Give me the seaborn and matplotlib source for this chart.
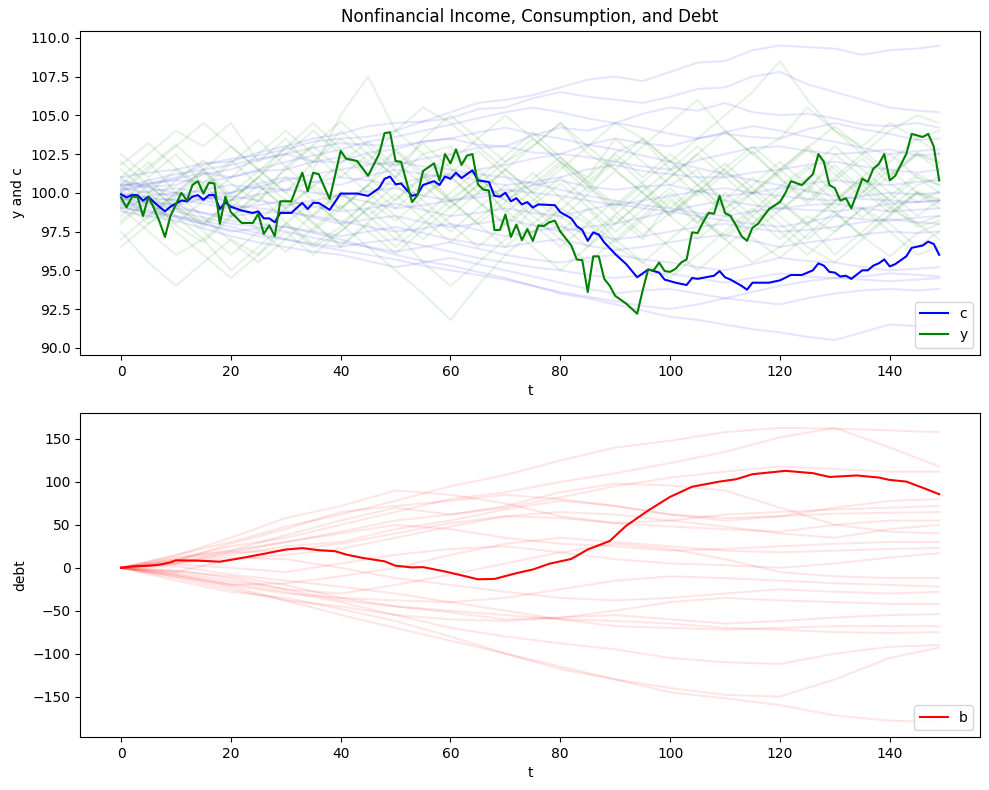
import numpy as np
import pandas as pd
import seaborn as sns
import matplotlib
matplotlib.use('Agg')
import matplotlib.pyplot as plt

# main consumption path c (t, value)
c_t = [0, 1, 2, 3, 4, 5, 6, 8, 9, 11, 12, 13, 14, 15, 16, 17, 18, 19, 20, 22, 24, 25, 26, 27, 28, 29,
       31, 33, 34, 35, 36, 38, 40, 43, 45, 47, 48, 49, 50, 51, 52, 53, 54, 55, 57, 58, 59, 60, 61, 62,
       63, 64, 65, 67, 68, 69, 70, 71, 72, 73, 74, 75, 76, 79, 80, 82, 83, 84, 85, 86, 87, 88, 90, 92,
       94, 96, 98, 99, 101, 103, 104, 105, 108, 109, 110, 111, 113, 114, 115, 118, 120, 122, 124, 126,
       127, 128, 129, 130, 131, 132, 133, 135, 136, 137, 138, 139, 140, 141, 143, 144, 146, 147, 148, 149]
c_v = [99.9, 99.7, 99.85, 99.85, 99.5, 99.75, 99.4, 98.8, 99.1, 99.5, 99.45, 99.75, 99.85, 99.55, 99.85,
       99.85, 98.95, 99.4, 99.1, 98.85, 98.7, 98.8, 98.35, 98.35, 98.1, 98.7, 98.7, 99.35, 98.95, 99.35,
       99.35, 98.9, 99.95, 99.95, 99.8, 100.3, 100.9, 101.05, 100.55, 100.6, 100.2, 99.8, 99.9, 100.5,
       100.75, 100.5, 101.05, 100.9, 101.3, 100.95, 101.2, 101.45, 100.8, 100.7, 99.8, 99.75, 100.0,
       99.45, 99.65, 99.25, 99.4, 99.05, 99.25, 99.2, 98.75, 98.35, 97.85, 97.6, 96.9, 97.45, 97.3, 96.8,
       96.05, 95.4, 94.55, 95.05, 94.85, 94.4, 94.2, 94.05, 94.5, 94.45, 94.65, 94.95, 94.55, 94.4, 94.0,
       93.75, 94.2, 94.2, 94.35, 94.7, 94.7, 95.0, 95.45, 95.3, 94.9, 94.85, 94.6, 94.65, 94.45, 95.0,
       95.0, 95.3, 95.45, 95.7, 95.25, 95.4, 95.9, 96.45, 96.6, 96.85, 96.7, 96.0]

# main income path y
y_t = [0, 1, 2, 3, 4, 5, 6, 7, 8, 9, 11, 12, 13, 14, 15, 16, 17, 18, 19, 20, 21, 22, 24, 25, 26, 27,
       28, 29, 31, 33, 34, 35, 36, 38, 40, 41, 43, 45, 47, 48, 49, 50, 51, 52, 53, 54, 55, 57, 58, 59,
       60, 61, 62, 63, 64, 65, 66, 67, 68, 69, 70, 71, 72, 73, 74, 75, 76, 77, 78, 79, 80, 82, 83, 84,
       85, 86, 87, 88, 89, 90, 91, 92, 94, 95, 96, 97, 98, 99, 100, 101, 102, 103, 104, 105, 106, 107,
       108, 109, 110, 111, 112, 113, 114, 115, 116, 118, 120, 121, 122, 124, 126, 127, 128, 129, 130,
       131, 132, 133, 135, 136, 137, 138, 139, 140, 141, 143, 144, 146, 147, 148, 149]
y_v = [99.7, 99.05, 99.75, 99.75, 98.5, 99.75, 99.0, 98.15, 97.15, 98.5, 100.0, 99.5, 100.5, 100.75,
       99.95, 100.65, 100.6, 98.0, 99.75, 98.75, 98.4, 98.05, 98.05, 98.65, 97.35, 97.9, 97.2, 99.45,
       99.45, 101.3, 100.1, 101.3, 101.2, 99.6, 102.7, 102.2, 102.05, 101.1, 102.5, 103.85, 103.9,
       102.05, 102.0, 100.7, 99.4, 99.85, 101.4, 101.9, 100.8, 102.5, 101.9, 102.8, 101.8, 102.4, 102.5,
       100.55, 100.2, 100.15, 97.6, 97.6, 98.6, 97.15, 97.95, 96.95, 97.65, 96.9, 97.9, 97.85, 98.1,
       98.2, 97.5, 96.6, 95.7, 95.65, 93.6, 95.9, 95.9, 94.45, 94.0, 93.35, 93.1, 92.85, 92.2, 93.7,
       95.05, 95.0, 95.5, 94.95, 94.9, 95.1, 95.5, 95.7, 97.45, 97.4, 98.1, 98.7, 98.65, 99.8, 98.7,
       98.5, 97.9, 97.2, 96.9, 97.75, 98.0, 98.95, 99.4, 100.0, 100.75, 100.5, 101.2, 102.5, 102.0,
       100.5, 100.3, 99.5, 99.65, 99.0, 100.9, 100.7, 101.55, 101.85, 102.5, 100.8, 101.1, 102.5,
       103.8, 103.6, 103.8, 103.0, 100.8]

# main debt path b
b_t = [0, 2, 5, 7, 9, 10, 14, 18, 21, 26, 30, 33, 36, 39, 41, 44, 48, 50, 53, 55, 59, 63, 65, 68, 72,
       75, 78, 82, 85, 89, 92, 96, 100, 104, 109, 112, 115, 121, 126, 129, 134, 138, 140, 143, 146, 149]
b_v = [0, 1.6, 2.4, 3.6, 6.3, 8.7, 8.3, 7.1, 10.3, 16.2, 21.3, 22.9, 20.5, 19.3, 15.4, 11.5, 7.5, 2.4,
       0.4, 0.8, -4.3, -10.3, -13.4, -13.0, -6.3, -2.0, 4.7, 10.3, 21.3, 31.2, 48.9, 66.7, 82.6, 94.4,
       100.4, 103.1, 109.0, 112.9, 110.2, 105.8, 107.5, 105.1, 102.3, 100.4, 93.2, 85.7]

# faint sample paths, read at coarse time steps
grid10 = [0, 10, 20, 30, 40, 50, 60, 70, 80, 90, 100, 110, 120, 130, 140, 149]
grid5 = list(range(0, 150, 5)) + [149]

c_paths = [
    [101.0, 101.3, 101.5, 101.9, 102.0, 102.6, 103.0, 103.5, 103.8, 104.3, 104.5, 104.6, 105.2, 105.8, 106.0, 106.3,
     106.8, 107.3, 107.5, 107.2, 107.8, 108.4, 108.5, 109.2, 109.5, 109.4, 109.3, 108.9, 109.2, 109.3, 109.5],
    [100.5, 100.6, 101.0, 101.8, 102.2, 102.4, 102.8, 103.3, 103.5, 103.6, 104.0, 104.6, 104.8, 105.4, 105.5, 106.1,
     106.5, 106.2, 106.0, 105.8, 106.2, 106.7, 106.8, 107.5, 107.8, 107.0, 106.5, 106.0, 105.5, 105.3, 105.2],
    [100.8, 100.4, 100.5, 101.2, 101.5, 102.1, 102.5, 102.0, 102.0, 102.6, 102.8, 103.3, 103.5, 103.1, 103.0, 103.7,
     104.2, 104.0, 104.5, 105.1, 105.5, 105.3, 105.8, 105.2, 105.0, 105.1, 104.8, 104.4, 104.3, 104.5, 104.2],
    [100.2, 100.6, 100.8, 100.7, 101.0, 101.4, 101.5, 102.0, 102.3, 101.9, 101.8, 102.2, 102.5, 102.9, 103.0, 102.6,
     102.5, 103.1, 103.5, 103.2, 103.0, 103.5, 103.8, 103.6, 103.5, 104.1, 104.5, 104.1, 103.8, 103.4, 103.5],
    [99.8, 100.1, 100.3, 100.0, 100.0, 100.6, 101.0, 100.7, 100.5, 101.1, 101.5, 101.2, 101.0, 101.5, 101.8, 102.2,
     102.5, 102.3, 102.0, 101.7, 101.5, 102.1, 102.5, 102.9, 103.0, 102.7, 102.5, 102.6, 102.8, 102.4, 102.5],
    [100.3, 100.0, 99.8, 100.2, 100.5, 100.3, 100.2, 100.7, 101.0, 100.8, 100.5, 101.0, 101.2, 100.8, 100.5, 100.7,
     101.0, 101.5, 101.8, 101.4, 101.2, 101.0, 101.0, 101.3, 101.5, 101.8, 102.0, 101.7, 101.5, 101.3, 101.5],
    [99.5, 99.8, 100.0, 99.7, 99.5, 99.9, 100.2, 100.0, 99.8, 100.1, 100.3, 99.8, 99.5, 99.7, 100.0, 100.5,
     100.8, 100.4, 100.2, 100.4, 100.5, 100.1, 99.8, 100.0, 100.3, 100.6, 100.8, 100.6, 100.5, 100.7, 100.8],
    [100.0, 99.7, 99.5, 99.6, 99.8, 99.5, 99.2, 99.5, 99.8, 99.4, 99.0, 99.2, 99.5, 99.9, 100.2, 100.0,
     99.8, 99.5, 99.2, 99.5, 99.8, 100.1, 100.3, 100.0, 99.8, 99.6, 99.5, 99.8, 100.0, 99.9, 100.0],
    [99.2, 99.5, 99.6, 99.3, 99.0, 99.2, 99.5, 99.1, 98.8, 99.0, 99.3, 98.9, 98.5, 98.7, 99.0, 98.7,
     98.5, 98.9, 99.3, 99.0, 98.8, 99.2, 99.5, 99.2, 99.0, 98.9, 98.8, 99.0, 99.3, 99.4, 99.5],
    [100.6, 100.3, 100.0, 99.5, 99.2, 99.0, 98.8, 98.4, 98.0, 98.3, 98.5, 98.1, 97.8, 98.0, 98.3, 97.9,
     97.5, 97.8, 98.0, 98.4, 98.8, 98.5, 98.2, 98.0, 97.8, 98.1, 98.5, 98.3, 98.2, 98.4, 98.5],
    [99.6, 99.3, 99.0, 98.7, 98.5, 98.7, 98.8, 98.5, 98.2, 97.8, 97.5, 97.7, 98.0, 97.6, 97.2, 97.5,
     97.8, 97.4, 97.0, 97.2, 97.5, 97.8, 98.0, 97.7, 97.5, 97.6, 97.8, 98.1, 98.3, 98.1, 98.0],
    [99.9, 99.5, 99.2, 98.7, 98.2, 98.0, 97.8, 97.5, 97.2, 97.5, 97.8, 97.4, 97.0, 96.7, 96.5, 96.8,
     97.0, 96.6, 96.3, 96.5, 96.8, 97.1, 97.3, 96.9, 96.5, 96.8, 97.0, 97.3, 97.5, 97.4, 97.5],
    [99.4, 99.1, 98.8, 98.4, 98.0, 97.8, 97.5, 97.1, 96.8, 96.5, 96.2, 96.5, 96.8, 96.4, 96.0, 95.7,
     95.5, 95.8, 96.0, 95.7, 95.5, 95.2, 95.0, 95.4, 95.8, 95.6, 95.5, 95.2, 95.0, 95.1, 95.2],
    [99.0, 98.8, 98.5, 98.2, 97.8, 97.4, 97.0, 96.7, 96.5, 96.8, 97.0, 96.6, 96.2, 95.8, 95.5, 95.2,
     95.0, 94.7, 94.5, 94.7, 94.8, 94.5, 94.2, 94.5, 94.8, 94.6, 94.5, 94.4, 94.3, 94.4, 94.5],
    [98.8, 98.5, 98.2, 97.7, 97.2, 96.8, 96.5, 96.2, 96.0, 95.6, 95.2, 95.5, 95.8, 95.4, 95.0, 94.6,
     94.2, 93.8, 93.5, 93.7, 93.8, 93.5, 93.2, 93.0, 92.8, 93.2, 93.5, 93.7, 93.8, 93.7, 93.8],
    [99.3, 98.9, 98.5, 98.0, 97.5, 97.7, 97.8, 97.4, 97.0, 96.5, 96.0, 95.6, 95.3, 94.9, 94.5, 94.0,
     93.5, 93.2, 92.8, 92.4, 92.0, 91.8, 91.5, 91.2, 91.0, 90.7, 90.5, 91.0, 91.5, 91.4, 91.5],
    [100.4, 100.8, 101.2, 101.5, 101.8, 102.2, 102.5, 102.9, 103.2, 103.1, 103.0, 103.3, 103.5, 103.9, 104.2, 103.8,
     103.5, 103.1, 102.8, 102.4, 102.0, 101.6, 101.2, 100.8, 100.5, 100.1, 99.8, 99.6, 99.5, 99.4, 99.5],
    [99.7, 99.4, 99.2, 99.6, 100.0, 100.4, 100.8, 101.2, 101.5, 101.8, 102.0, 101.7, 101.5, 101.2, 101.0, 100.6,
     100.2, 99.8, 99.5, 99.2, 99.0, 98.7, 98.5, 98.8, 99.0, 99.2, 99.3, 99.0, 98.8, 98.9, 99.0],
    [100.1, 100.5, 100.9, 101.3, 101.0, 101.5, 102.0, 102.4, 102.8, 103.3, 103.6, 104.0, 104.4, 104.8, 105.2, 105.5,
     105.2, 104.8, 104.5, 104.2, 103.8, 103.5, 103.9, 104.3, 104.0, 103.6, 103.3, 102.9, 102.5, 102.7, 102.8],
    [99.1, 98.7, 98.4, 98.0, 97.6, 97.2, 97.0, 96.6, 96.3, 96.0, 95.7, 95.3, 95.0, 94.7, 94.4, 94.0,
     93.6, 93.3, 93.0, 92.7, 92.5, 92.8, 93.2, 93.6, 94.0, 94.3, 94.5, 94.6, 94.8, 94.7, 94.6],
]

y_paths = [
    [101.0, 102.5, 104.0, 103.0, 104.5, 102.0, 103.5, 101.5, 105.0, 107.5, 104.0, 102.5, 103.0, 101.0, 99.5, 100.5,
     102.0, 101.0, 103.5, 102.0, 100.5, 101.5, 99.0, 100.0, 101.5, 100.0, 102.5, 101.0, 99.5, 101.0, 100.5],
    [99.0, 97.5, 96.0, 97.0, 95.0, 96.5, 98.0, 96.5, 97.5, 99.0, 97.5, 95.5, 94.0, 95.5, 97.0, 99.0,
     98.0, 96.5, 98.5, 97.0, 99.5, 98.0, 100.0, 98.5, 97.0, 98.5, 97.5, 99.0, 98.0, 96.5, 97.5],
    [100.5, 102.0, 100.0, 101.5, 99.5, 101.0, 103.0, 102.0, 104.0, 102.5, 101.0, 103.5, 105.0, 103.5, 102.0, 103.0,
     104.5, 102.5, 101.5, 103.0, 104.5, 106.0, 104.0, 102.5, 103.5, 105.5, 104.0, 103.0, 104.5, 103.5, 104.0],
    [97.5, 95.5, 94.0, 95.5, 97.0, 96.0, 98.0, 99.5, 98.0, 96.5, 95.0, 93.5, 91.8, 94.0, 96.0, 97.5,
     99.0, 98.0, 96.5, 95.5, 97.0, 98.5, 97.0, 95.5, 96.5, 98.0, 96.0, 97.5, 99.0, 98.0, 98.5],
    [100.0, 101.5, 103.0, 104.5, 103.0, 101.5, 100.0, 102.0, 103.5, 102.0, 104.0, 105.5, 104.5, 103.0, 101.5, 100.0,
     101.5, 103.0, 104.5, 103.5, 102.0, 103.5, 105.0, 106.5, 108.5, 106.0, 104.0, 102.5, 101.0, 102.5, 101.5],
    [99.5, 98.0, 99.0, 97.5, 96.0, 97.5, 99.0, 100.5, 99.0, 100.5, 102.0, 100.5, 99.0, 100.5, 102.0, 103.5,
     102.0, 100.5, 99.0, 100.5, 98.5, 97.0, 98.5, 100.0, 98.5, 97.0, 98.5, 100.0, 101.5, 100.0, 99.0],
    [98.5, 100.0, 101.5, 100.0, 98.5, 99.5, 101.0, 99.5, 98.0, 99.5, 101.0, 102.5, 101.0, 99.5, 98.0, 96.5,
     95.0, 96.5, 98.0, 99.5, 101.0, 102.5, 101.0, 99.5, 98.0, 96.5, 95.5, 97.0, 98.5, 100.0, 99.5],
    [101.5, 100.0, 98.5, 97.0, 98.5, 100.0, 101.5, 103.0, 101.5, 100.0, 98.5, 97.0, 98.5, 100.0, 101.5, 103.0,
     104.5, 103.0, 101.5, 100.0, 98.5, 100.0, 101.5, 100.0, 101.5, 103.0, 101.5, 100.0, 102.0, 103.5, 102.5],
    [98.0, 99.5, 97.5, 96.0, 94.5, 96.0, 97.5, 96.0, 97.5, 99.0, 100.5, 99.0, 97.5, 99.0, 100.5, 99.0,
     97.5, 99.0, 97.0, 95.5, 94.5, 96.0, 97.5, 99.0, 97.5, 96.0, 97.5, 99.0, 97.5, 96.0, 96.5],
    [102.5, 101.0, 102.5, 100.5, 99.0, 100.5, 99.0, 97.5, 99.0, 100.5, 99.0, 100.5, 102.0, 103.5, 105.0, 103.5,
     102.0, 100.5, 102.0, 103.5, 102.0, 100.5, 99.0, 100.5, 102.0, 100.5, 99.0, 100.5, 99.0, 100.5, 101.0],
    [99.0, 100.5, 99.0, 98.0, 99.5, 101.0, 99.5, 98.0, 96.5, 98.0, 96.5, 98.0, 99.5, 98.0, 96.5, 98.0,
     99.5, 101.0, 102.5, 101.0, 102.5, 101.0, 99.5, 98.0, 99.5, 101.0, 99.5, 101.0, 102.5, 101.0, 100.0],
    [100.0, 98.5, 100.0, 101.5, 103.0, 101.5, 100.0, 98.5, 100.0, 98.5, 97.0, 98.5, 100.0, 101.5, 100.0, 98.5,
     97.0, 95.5, 97.0, 98.5, 100.0, 98.5, 97.0, 98.5, 100.0, 101.5, 103.0, 101.5, 100.0, 98.5, 99.5],
    [96.5, 98.0, 99.5, 98.0, 99.5, 101.0, 102.5, 104.0, 102.5, 101.0, 99.5, 101.0, 102.5, 101.0, 99.5, 98.0,
     96.5, 98.0, 99.5, 98.0, 96.5, 95.0, 96.5, 98.0, 99.5, 98.0, 99.5, 101.0, 99.5, 98.0, 97.0],
    [101.0, 99.5, 98.0, 99.5, 101.0, 102.5, 104.0, 102.5, 101.0, 102.5, 101.0, 99.5, 98.0, 96.5, 98.0, 99.5,
     101.0, 99.5, 98.0, 99.5, 101.0, 102.5, 104.0, 102.5, 101.0, 99.5, 101.0, 102.5, 104.0, 105.0, 104.5],
    [100.5, 99.2, 100.8, 102.1, 100.6, 99.4, 101.7, 100.2, 98.9, 100.5, 102.8, 101.3, 99.6, 100.9, 98.7, 100.2,
     101.8, 100.1, 102.6, 103.4, 101.5, 99.8, 101.2, 102.7, 100.9, 99.3, 100.8, 102.2, 100.6, 99.4, 100.1],
    [98.2, 99.6, 97.9, 96.8, 98.4, 99.9, 98.1, 96.7, 97.8, 99.5, 98.2, 99.7, 101.1, 99.4, 97.9, 99.2,
     100.6, 99.1, 97.5, 98.9, 100.3, 98.6, 97.2, 98.8, 100.4, 101.7, 99.9, 98.4, 99.8, 101.2, 100.5],
    [101.8, 103.2, 101.6, 100.3, 101.9, 103.4, 101.7, 103.1, 104.6, 103.0, 101.4, 99.8, 101.3, 102.7, 101.1, 99.6,
     98.3, 99.9, 101.4, 100.0, 98.6, 100.1, 101.6, 103.0, 101.5, 102.9, 104.3, 102.8, 101.2, 102.6, 102.0],
    [99.4, 100.9, 99.2, 97.8, 99.3, 97.6, 96.2, 97.7, 99.2, 97.5, 96.1, 97.6, 99.1, 100.5, 98.9, 97.4,
     98.9, 100.4, 98.8, 97.3, 98.7, 100.2, 98.6, 97.1, 95.8, 97.3, 98.8, 97.2, 95.9, 97.4, 98.0],
    [100.2, 101.7, 103.1, 101.5, 99.9, 101.4, 102.9, 104.5, 102.8, 101.2, 102.7, 101.0, 99.4, 100.9, 102.4, 103.9,
     102.3, 100.7, 102.2, 100.6, 99.0, 100.5, 101.9, 100.3, 98.8, 100.3, 101.8, 100.2, 98.7, 100.1, 99.6],
    [97.0, 98.5, 100.0, 98.4, 96.9, 95.5, 97.0, 98.6, 100.1, 98.5, 99.9, 98.3, 96.8, 98.3, 99.8, 101.3,
     99.7, 98.2, 96.8, 98.3, 99.7, 98.1, 99.6, 101.0, 99.4, 97.9, 99.4, 100.8, 99.2, 97.8, 98.2],
    [102.0, 100.5, 99.0, 100.6, 102.1, 100.5, 99.0, 100.4, 101.9, 103.3, 101.7, 103.2, 101.6, 100.0, 101.5, 100.0,
     98.5, 97.1, 98.6, 100.1, 101.5, 103.0, 101.4, 99.9, 101.3, 102.8, 101.2, 99.7, 101.1, 102.5, 101.9],
    [99.8, 98.3, 99.8, 101.3, 99.7, 98.2, 99.6, 98.1, 96.6, 98.1, 99.6, 101.1, 99.5, 98.0, 99.4, 100.9,
     102.3, 100.7, 99.2, 100.7, 102.1, 100.5, 98.9, 97.4, 98.9, 100.3, 98.7, 97.2, 98.6, 100.0, 99.3],
]

b_paths = [
    [0, 15, 30, 48, 62, 78, 95, 108, 125, 140, 148, 158, 163, 162, 160, 158],
    [0, 10, 25, 35, 50, 65, 80, 88, 100, 110, 122, 135, 152, 163, 140, 118],
    [0, 12, 20, 38, 55, 70, 62, 70, 82, 95, 105, 112, 118, 115, 112, 112],
    [0, 8, 28, 45, 65, 72, 78, 85, 80, 72, 62, 58, 60, 70, 78, 80],
    [0, 14, 35, 58, 72, 90, 85, 75, 60, 52, 55, 62, 65, 68, 70, 72],
    [0, 6, 15, 25, 30, 45, 55, 68, 78, 72, 62, 55, 60, 63, 64, 65],
    [0, 5, 18, 20, 28, 40, 52, 60, 58, 52, 48, 45, 42, 50, 55, 55],
    [0, -5, 10, 15, 22, 35, 48, 60, 65, 62, 55, 48, 40, 35, 45, 50],
    [0, 10, 20, 30, 40, 50, 45, 35, 28, 25, 20, 22, 25, 28, 30, 30],
    [0, -8, -20, -18, -10, 0, 15, 28, 35, 30, 25, 20, 18, 20, 22, 23],
    [0, 4, 0, -5, 5, 15, 22, 25, 18, 10, 5, 3, 0, 5, 12, 17],
    [0, -3, -12, -25, -30, -20, -8, 5, 18, 28, 22, 10, -5, -10, -12, -12],
    [0, -10, -20, -30, -35, -38, -40, -35, -25, -15, -10, -12, -15, -18, -20, -22],
    [0, 5, 12, 10, 0, -12, -20, -28, -35, -38, -35, -30, -25, -28, -30, -28],
    [0, -6, -15, -25, -38, -45, -52, -60, -58, -50, -40, -35, -38, -40, -42, -42],
    [0, -12, -25, -38, -45, -55, -60, -62, -58, -55, -60, -65, -62, -58, -55, -54],
    [0, 2, -8, -15, -22, -30, -40, -50, -60, -68, -70, -72, -70, -68, -68, -68],
    [0, -4, -10, -20, -35, -45, -50, -55, -60, -62, -65, -70, -72, -75, -76, -75],
    [0, -8, -18, -28, -40, -55, -70, -80, -88, -95, -105, -110, -112, -100, -92, -90],
    [0, -15, -28, -35, -48, -62, -80, -100, -118, -130, -140, -148, -150, -130, -105, -93],
    [0, -10, -22, -38, -55, -70, -85, -100, -115, -130, -145, -152, -160, -172, -178, -180],
    [0, 8, 18, 30, 42, 55, 62, 72, 88, 98, 96, 90, 70, 50, 42, 40],
]


def long_frame(paths, grid):
    rows = []
    for k, p in enumerate(paths):
        for t, v in zip(grid, p):
            rows.append((k, t, v))
    return pd.DataFrame(rows, columns=['path', 't', 'v'])


fig, (ax1, ax2) = plt.subplots(2, 1, figsize=(9.89, 7.9), dpi=100)
fig.subplots_adjust(left=0.081, right=0.991, top=0.961, bottom=0.067, hspace=0.18)

# top panel: income and consumption
sns.lineplot(data=long_frame(c_paths, grid5), x='t', y='v', units='path', estimator=None,
             sort=False, color='b', alpha=0.1, lw=1.5, legend=False, ax=ax1)
sns.lineplot(data=long_frame(y_paths, grid5), x='t', y='v', units='path', estimator=None,
             sort=False, color='g', alpha=0.1, lw=1.5, legend=False, ax=ax1)
sns.lineplot(x=c_t, y=c_v, color='b', lw=1.5, label='c', estimator=None, sort=False, ax=ax1)
sns.lineplot(x=y_t, y=y_v, color='g', lw=1.5, label='y', estimator=None, sort=False, ax=ax1)
ax1.set_title('Nonfinancial Income, Consumption, and Debt')
ax1.set_xlabel('t')
ax1.set_ylabel('y and c')
ax1.legend(loc='lower right')

# bottom panel: debt
sns.lineplot(data=long_frame(b_paths, grid10), x='t', y='v', units='path', estimator=None,
             sort=False, color='r', alpha=0.1, lw=1.5, legend=False, ax=ax2)
sns.lineplot(x=b_t, y=b_v, color='r', lw=1.5, label='b', estimator=None, sort=False, ax=ax2)
ax2.set_xlabel('t')
ax2.set_ylabel('debt')
ax2.legend(loc='lower right')

plt.savefig('out.png', dpi=100)
